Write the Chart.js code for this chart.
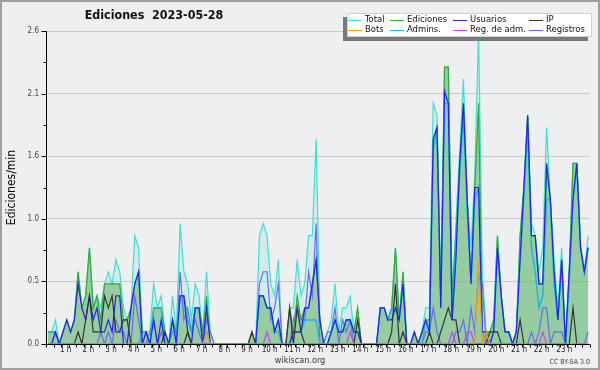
<!DOCTYPE html>
<html><head><meta charset="utf-8">
<script src="https://cdn.jsdelivr.net/npm/chart.js@4/dist/chart.umd.min.js"></script>
<style>html,body{margin:0;padding:0;background:#eeeff0;}canvas{display:block;}</style>
</head><body><canvas id="c" width="600" height="370"></canvas>
<script>
// 10-minute slots, 144 per day; values are edits per minute
const total = [
 .1,.1,.2,0,.1,.2,  .1,.2,.6,.3,.4,.8,  .3,.4,.3,.5,.6,.5,  .7,.6,.3,.2,.3,.9,
 .8,.1,.1,.1,.5,.3,  .4,.1,0,.4,.1,1.0,  .6,.5,.2,.5,.4,.1,  .6,.1,0,0,0,0,
 0,0,0,0,0,0,  .1,0,.9,1.0,.9,.5,  .4,.7,0,0,.3,.3,  .7,.4,.5,.9,.9,1.7,
 .2,0,.1,.2,.5,.1,  .3,.3,.4,.1,.3,0,  0,0,0,0,.3,.3,  .2,.3,.8,.2,.6,0,
 0,.1,0,.1,.3,.3,  2.0,1.9,.4,2.3,2.3,.4,  1.0,1.6,2.2,1.2,.8,1.4,  2.6,.6,.1,.1,.2,.9,
 .4,.1,.1,0,.1,.9,  1.3,1.9,1.0,.9,.6,.8,  1.8,1.2,.7,.3,.8,0,  .6,1.5,1.5,.8,.6,.9
];
const ediciones = [
 .1,.1,.1,0,.1,.2,  .1,.2,.6,.3,.4,.8,  .3,.4,.2,.5,.5,.5,  .5,.5,.2,.2,.3,.5,
 .6,.1,.1,0,.3,.3,  .3,.1,0,.2,.1,.4,  .4,.2,.1,.3,.3,.1,  .4,0,0,0,0,0,
 0,0,0,0,0,0,  .1,0,.4,.4,.3,.3,  .1,.2,0,0,.3,.1,  .4,.2,.3,.3,.5,.7,
 .2,0,0,.1,.2,.1,  .1,.2,.2,.1,.3,0,  0,0,0,0,.3,.3,  .2,.3,.8,.2,.6,0,
 0,.1,0,.1,.2,.2,  1.7,1.8,.4,2.3,2.3,.4,  .9,1.5,2.0,1.2,.5,1.3,  2.0,.1,.1,.1,.2,.9,
 .4,.1,.1,0,.1,.9,  1.3,1.9,.9,.9,.5,.5,  1.5,1.2,.6,.2,.7,0,  .6,1.5,1.5,.8,.6,.8
];
const usuarios = [
 0,0,.1,0,.1,.2,  .1,.2,.5,.3,.2,.4,  .2,.3,.1,.1,.2,.1,  .4,.4,0,0,.3,.5,
 .6,0,.1,0,.2,0,  .2,0,0,.2,0,.4,  .4,.1,0,.3,.3,0,  .3,0,0,0,0,0,
 0,0,0,0,0,0,  0,0,.4,.4,.3,.3,  .1,.2,0,0,0,.1,  .1,.1,.3,.3,.5,.7,
 .2,0,0,.1,.2,.1,  .1,.2,.2,.1,.1,0,  0,0,0,0,.3,.3,  .2,.2,.3,.2,.5,0,
 0,.1,0,.1,.2,.1,  1.7,1.8,.3,2.1,2.0,.2,  .7,1.5,2.0,1.2,.5,1.3,  1.3,.1,.1,0,.1,.8,
 .4,.1,.1,0,.1,.7,  1.3,1.9,.9,.9,.5,.5,  1.5,1.2,.6,.2,.7,0,  .6,1.2,1.5,.8,.6,.8
];
const ip = [
 0,0,0,0,0,0,  0,0,.1,0,.2,.4,  .1,.1,.1,.4,.3,.4,  .1,.1,.2,.2,0,0,
 0,0,0,0,0,0,  0,.1,0,0,0,0,  0,.1,0,0,0,0,  0,0,0,0,0,0,
 0,0,0,0,0,0,  .1,0,0,0,0,0,  0,0,0,0,.3,0,  .3,.1,0,0,0,0,
 0,0,0,0,0,0,  0,0,0,0,.2,0,  0,0,0,0,0,0,  0,.1,.5,0,.1,0,
 0,0,0,0,0,.1,  0,0,.1,.2,.3,.2,  .2,0,0,0,0,0,  0,0,0,.1,.1,.1,
 0,0,0,0,0,.2,  0,0,0,0,0,0,  0,0,0,0,0,0,  0,.3,0,0,0,0
];
const bots = [
 0,0,0,0,0,0,  0,0,0,0,0,0,  0,0,0,0,0,0,  0,0,0,0,0,0,
 0,0,0,0,0,0,  0,0,0,0,0,0,  0,0,0,0,0,0,  .1,0,0,0,0,0,
 0,0,0,0,0,0,  0,0,0,0,0,0,  0,0,0,0,0,0,  0,0,0,0,0,0,
 0,0,0,0,0,0,  0,0,0,0,0,0,  0,0,0,0,0,0,  0,0,0,0,0,0,
 0,0,0,0,0,0,  0,0,0,0,0,0,  0,0,0,0,0,0,  .7,0,.1,0,0,0,
 0,0,0,0,0,0,  0,0,0,0,0,0,  0,0,0,0,0,0,  0,0,0,0,0,0
];
const admins = [
 .1,.1,.1,0,0,0,  0,0,0,0,0,0,  0,0,0,0,0,0,  0,0,0,0,0,0,
 0,.1,.1,0,.3,.3,  .3,0,0,.1,.1,.4,  .4,.2,.1,.3,.3,0,  .1,0,0,0,0,0,
 0,0,0,0,0,0,  0,0,.4,.4,.3,.3,  .1,.1,0,0,0,.1,  .1,.1,.2,.2,.2,.2,
 0,0,0,.1,.2,.1,  .1,.2,.2,.1,.1,0,  0,0,0,0,.3,.3,  .2,.3,.3,.2,.5,0,
 0,0,0,0,.2,.1,  1.6,1.8,.3,2.0,2.0,.2,  .8,1.4,1.9,1.1,.5,1.2,  1.3,.1,0,0,.1,.8,
 .4,.1,.1,0,.1,.7,  1.2,1.8,.8,.6,.3,.4,  1.2,1.2,.5,.2,.7,0,  .5,1.2,1.5,.8,.6,.8
];
const regAdm = [
 0,0,0,0,0,0,  0,0,0,0,0,0,  0,0,0,0,0,0,  0,0,0,0,0,0,
 0,0,0,0,0,0,  0,0,0,0,0,0,  0,0,0,0,0,0,  0,0,0,0,0,0,
 0,0,0,0,0,0,  0,0,0,0,.1,0,  0,0,0,0,0,0,  0,0,0,0,0,0,
 0,0,0,0,0,0,  0,0,.1,0,0,0,  0,0,0,0,0,0,  0,0,0,0,0,0,
 0,0,0,0,0,0,  0,0,0,0,0,.1,  0,0,0,.1,.1,0,  0,0,0,0,0,0,
 0,0,0,0,0,0,  0,0,0,0,0,.1,  0,0,0,0,0,0,  0,0,0,0,0,0
];
const registros = [
 0,0,.1,0,0,0,  0,0,0,0,0,0,  0,0,.1,0,.1,0,  .2,.1,.1,0,0,.4,
 .2,0,0,.1,.2,0,  .1,0,0,.2,0,.6,  .2,.3,.1,.2,.1,0,  .2,.1,0,0,0,0,
 0,0,0,0,0,0,  0,0,.5,.6,.6,.2,  .3,.5,0,0,0,.2,  .3,.2,.2,.6,.4,1.0,
 0,0,.1,.1,.3,0,  .2,.1,.2,0,0,0,  0,0,0,0,0,0,  0,0,0,0,0,0,
 0,0,0,0,.1,.1,  .3,.1,0,0,0,0,  .1,.1,.2,0,.3,.1,  .6,.5,0,0,0,0,
 0,0,0,0,0,0,  0,0,.1,0,.1,.3,  .3,0,.1,.1,.1,0,  0,0,0,0,0,.1
];
const yTickValues = [0, .26, .52, .78, 1.04, 1.3, 1.56, 1.82, 2.08, 2.34, 2.6];
const yTickLabels = ['0.0','','0.5','','1.0','','1.6','','2.1','','2.6'];
const hourLabels = ['1 h','2 h','3 h','4 h','5 h','6 h','7 h','8 h','9 h','10 h','11 h','12 h',
  '13 h','14 h','15 h','16 h','17 h','18 h','19 h','20 h','21 h','22 h','23 h'];
const titleText = 'Ediciones  2023-05-28';
const yTitle = 'Ediciones/min';

const FONT = "'DejaVu Sans Condensed', 'DejaVu Sans', sans-serif";
const xTickValues = [];
for (let k = 0; k <= 72; k++) xTickValues.push(k / 3);
const pts = arr => arr.map((v, i) => ({x: (i + 0.5) / 6, y: v}));

function ds(label, arr, color, order, extra) {
  return Object.assign({label, data: pts(arr), borderColor: color, backgroundColor: color,
    borderWidth: 1.2, pointRadius: 0, pointHoverRadius: 0, tension: 0, fill: false, order}, extra || {});
}
const datasets = [
  ds('Total', total, '#40e0d0', 8, {fill: 'origin', backgroundColor: 'rgba(64,224,208,0.16)'}),
  ds('Ediciones', ediciones, '#33aa33', 7, {fill: 'origin', backgroundColor: 'rgba(110,185,110,0.6)'}),
  ds('Usuarios', usuarios, '#2222ee', 4),
  ds('IP', ip, '#333333', 3),
  ds('Bots', bots, '#ff9900', 1),
  ds('Admins.', admins, '#22b4e0', 5, {borderWidth: 1.5}),
  ds('Reg. de adm.', regAdm, '#cc44ee', 2),
  ds('Registros', registros, '#6a6af2', 6)
];
const legendOrder = ['Total','Ediciones','Usuarios','IP','Bots','Admins.','Reg. de adm.','Registros'];

const deco = {
  id: 'deco',
  beforeDraw(chart) {
    const c = chart.ctx;
    c.save(); c.fillStyle = '#eeeff0'; c.fillRect(0, 0, chart.width, chart.height); c.restore();
  },
  afterDraw(chart) {
    const c = chart.ctx, a = chart.chartArea, xs = chart.scales.x, ys = chart.scales.y;
    c.save();
    c.strokeStyle = '#000'; c.lineWidth = 1;
    c.beginPath();
    const L = Math.round(a.left) + 0.5, B = Math.round(a.bottom) + 0.5;
    c.moveTo(L, a.top); c.lineTo(L, B);
    c.moveTo(L, B); c.lineTo(a.right, B);
    yTickValues.forEach((v, k) => {
      const y = Math.round(ys.getPixelForValue(v)) + 0.5;
      const len = k % 2 === 0 ? 5 : 3;
      c.moveTo(L - len, y); c.lineTo(L, y);
    });
    xTickValues.forEach(v => {
      const x = Math.round(xs.getPixelForValue(v)) + 0.5;
      c.moveTo(x, B); c.lineTo(x, B + 3);
    });
    c.stroke();
    // title
    c.fillStyle = '#111'; c.textBaseline = 'middle'; c.textAlign = 'center';
    c.font = 'bold 12.4px ' + FONT;
    c.fillText(titleText, 154, 16);
    // y title
    c.save();
    c.translate(12, (a.top + a.bottom) / 2); c.rotate(-Math.PI / 2);
    c.font = '12px ' + FONT; c.fillStyle = '#000';
    c.fillText(yTitle, 0, 0);
    c.restore();
    // footer
    c.font = '9px ' + FONT; c.fillStyle = '#333'; c.textAlign = 'center';
    c.fillText('wikiscan.org', 300, 361);
    c.font = '7px ' + FONT; c.textAlign = 'right'; c.fillStyle = '#444';
    c.fillText('CC BY-SA 3.0', 590, 362);
    // legend
    c.fillStyle = '#7a7a7a'; c.fillRect(343, 17, 245, 24);
    c.fillStyle = '#ffffff'; c.fillRect(347, 13, 245, 24);
    c.strokeStyle = '#d0d0d0'; c.lineWidth = 1; c.strokeRect(347.5, 13.5, 244, 23);
    const colX = [348, 390, 453, 529];
    c.font = '9.4px ' + FONT; c.textAlign = 'left';
    legendOrder.forEach((name, k) => {
      const d = chart.data.datasets.find(s => s.label === name);
      const x = colX[k % 4], y = k < 4 ? 19.5 : 29.5;
      c.strokeStyle = d.borderColor; c.lineWidth = 1;
      c.beginPath(); c.moveTo(x, Math.round(y) + 0.5); c.lineTo(x + 14, Math.round(y) + 0.5); c.stroke();
      c.fillStyle = '#111'; c.fillText(name, x + 17, y);
    });
    // frame
    c.strokeStyle = '#a0a0a0'; c.lineWidth = 2; c.strokeRect(1, 1, chart.width - 2, chart.height - 2);
    c.restore();
  }
};

new Chart(document.getElementById('c'), {
  type: 'line',
  data: {datasets},
  options: {
    responsive: false, animation: false, devicePixelRatio: 1,
    layout: {padding: {top: 31, right: 10, left: 0, bottom: 0}},
    plugins: {legend: {display: false}, tooltip: {enabled: false}, title: {display: false}},
    scales: {
      x: {
        type: 'linear', min: 0, max: 24,
        grid: {drawOnChartArea: false, drawTicks: false},
        border: {display: false},
        afterBuildTicks: s => { s.ticks = xTickValues.map(v => ({value: v})); },
        afterFit: s => { s.height = 26; },
        ticks: {autoSkip: false, maxRotation: 0, padding: 1, labelOffset: -3, color: '#222',
          font: {family: FONT, size: 8},
          callback: v => (Number.isInteger(v) && v >= 1 && v <= 23) ? hourLabels[v - 1] : ''}
      },
      y: {
        type: 'linear', min: 0, max: 2.6,
        grid: {drawTicks: false, color: c => (c.index % 2 === 0 ? '#c9c9c9' : 'rgba(0,0,0,0)'), lineWidth: 1},
        border: {display: false},
        afterBuildTicks: s => { s.ticks = yTickValues.map(v => ({value: v})); },
        afterFit: s => { s.width = 46; },
        ticks: {autoSkip: false, padding: 7, color: '#444', font: {family: FONT, size: 8},
          callback: (v, i) => yTickLabels[i]}
      }
    }
  },
  plugins: [deco]
});
</script></body></html>
